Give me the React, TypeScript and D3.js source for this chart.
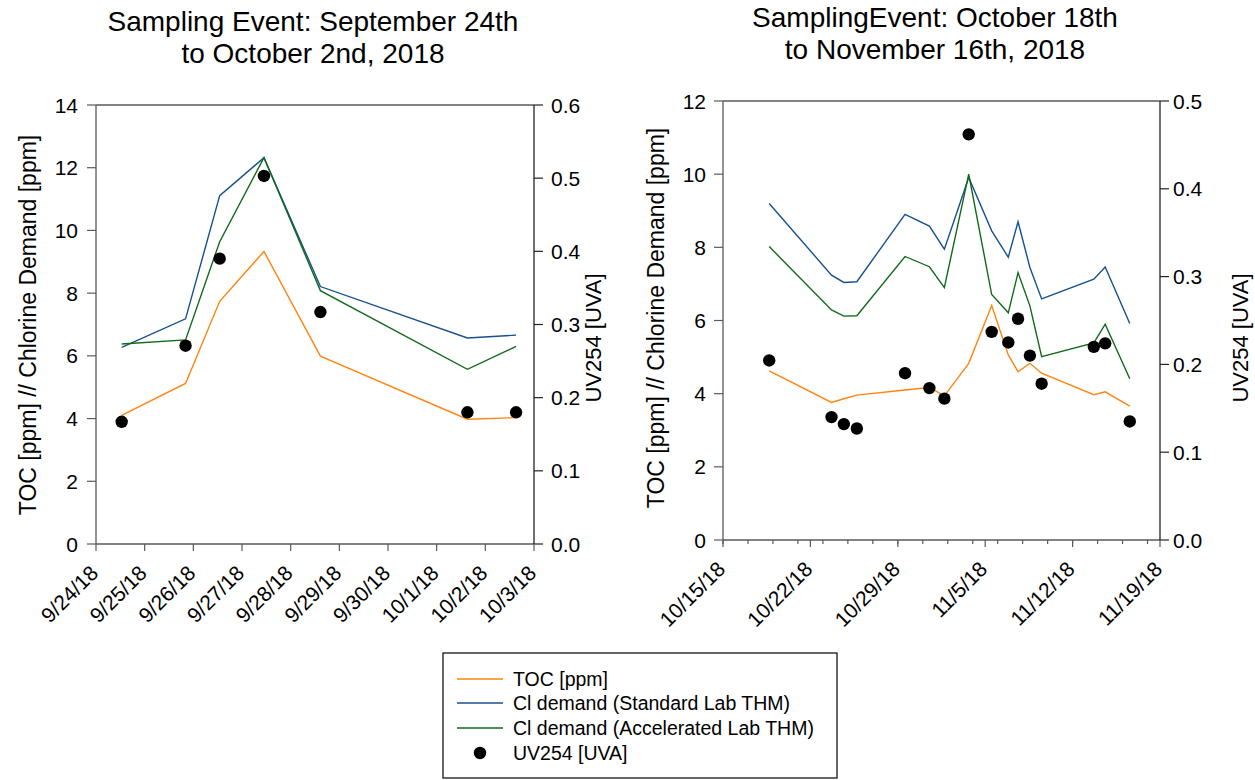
import React from "react";
import * as d3 from "d3";

// ---------- Data: Sampling Event 1 (Sep 24 – Oct 2, 2018) ----------
const leftDates = [
  "2018-09-24T12:40", "2018-09-25T20:10", "2018-09-26T13:00", "2018-09-27T10:50",
  "2018-09-28T14:40", "2018-10-01T15:10", "2018-10-02T15:10",
];
const leftTOC = [4.1, 5.12, 7.74, 9.33, 5.99, 3.98, 4.03];
const leftClStd = [6.27, 7.18, 11.11, 12.32, 8.21, 6.57, 6.66];
const leftClAcc = [6.38, 6.51, 9.64, 12.32, 8.08, 5.57, 6.3];
const leftUV = [0.167, 0.271, 0.39, 0.503, 0.317, 0.18, 0.18];

// ---------- Data: Sampling Event 2 (Oct 18 – Nov 16, 2018) ----------
const rightDates = [
  "2018-10-18T16:48", "2018-10-23T16:34", "2018-10-24T16:19", "2018-10-25T17:17",
  "2018-10-29T13:55", "2018-10-31T12:43", "2018-11-01T17:31", "2018-11-03T16:19",
  "2018-11-05T12:29", "2018-11-06T20:24", "2018-11-07T15:07", "2018-11-08T13:55",
  "2018-11-09T12:29", "2018-11-13T16:48", "2018-11-14T14:38", "2018-11-16T13:55",
];
const rightTOC = [4.62, 3.76, 3.86, 3.96, 4.1, 4.17, 3.94, 4.83, 6.41, 5.06, 4.6, 4.83, 4.56, 3.97, 4.05, 3.66];
const rightClStd = [9.2, 7.24, 7.04, 7.06, 8.9, 8.58, 7.95, 9.91, 8.45, 7.73, 8.7, 7.45, 6.59, 7.13, 7.46, 5.92];
const rightClAcc = [8.02, 6.29, 6.12, 6.13, 7.75, 7.47, 6.9, 10.0, 6.71, 6.21, 7.31, 6.4, 5.01, 5.39, 5.9, 4.41];
const rightUV = [0.2045, 0.14, 0.132, 0.127, 0.19, 0.173, 0.161, 0.462, 0.237, 0.225, 0.252, 0.21, 0.178, 0.22, 0.224, 0.135];

const leftTitle = ["Sampling Event: September 24th", "to October 2nd, 2018"];
const rightTitle = ["SamplingEvent: October 18th", "to November 16th, 2018"];
const yLabel = "TOC [ppm] // Chlorine Demand [ppm]";
const y2Label = "UV254 [UVA]";

const legendItems = [
  { label: "TOC [ppm]", kind: "line", key: "toc" },
  { label: "Cl demand (Standard Lab THM)", kind: "line", key: "std" },
  { label: "Cl demand (Accelerated Lab THM)", kind: "line", key: "acc" },
  { label: "UV254 [UVA]", kind: "dot", key: "uv" },
];

const COLORS: Record<string, string> = {
  toc: "#ff8412",
  std: "#17508f",
  acc: "#11691a",
  uv: "#000000",
};

const FONT = "'Liberation Sans', Arial, Helvetica, sans-serif";
const AXIS = "#5a5a5a";
const fmtDate = d3.timeFormat("%-m/%-d/%y");
const parse = (s: string) => new Date(s);

type PanelProps = {
  dates: string[];
  toc: number[];
  std: number[];
  acc: number[];
  uv: number[];
  box: { x0: number; x1: number; y0: number; y1: number };
  xDomain: [string, string];
  majorStep: number;
  minorStep: number;
  yMax: number;
  yStep: number;
  y2Max: number;
  title: string[];
  titleX: number;
  titleY: number[];
  yLabelPos: [number, number];
  y2LabelPos: [number, number];
  yTickGap: number;
  y2TickGap: number;
};

function Panel(p: PanelProps) {
  const { box } = p;
  const x = d3.scaleTime().domain([parse(p.xDomain[0]), parse(p.xDomain[1])]).range([box.x0, box.x1]);
  const y = d3.scaleLinear().domain([0, p.yMax]).range([box.y1, box.y0]);
  const y2 = d3.scaleLinear().domain([0, p.y2Max]).range([box.y1, box.y0]);
  const start = parse(p.xDomain[0]);
  const end = parse(p.xDomain[1]);
  const majors = d3.timeDay.range(start, d3.timeDay.offset(end, 1), p.majorStep);
  const minors = p.minorStep > 0 ? d3.timeDay.range(start, d3.timeDay.offset(end, 1), p.minorStep) : [];
  const yTicks = d3.range(0, p.yMax + 0.001, p.yStep);
  const y2Ticks = d3.range(0, p.y2Max + 0.0001, 0.1);
  const pts = p.dates.map(parse);

  const mk = (vals: number[]) =>
    d3.line<number>().x((_, i) => x(pts[i])).y((v) => y(v))(vals) || "";

  return (
    <g>
      {p.title.map((t, i) => (
        <text key={i} x={p.titleX} y={p.titleY[i]} textAnchor="middle" fontSize={28} fill="#000">
          {t}
        </text>
      ))}
      {/* frame: left, bottom, top, right */}
      <line x1={box.x0} x2={box.x0} y1={box.y0} y2={box.y1} stroke={AXIS} strokeWidth={1.3} />
      <line x1={box.x0} x2={box.x1} y1={box.y1} y2={box.y1} stroke={AXIS} strokeWidth={1.3} />
      <line x1={box.x0} x2={box.x1} y1={box.y0} y2={box.y0} stroke={AXIS} strokeWidth={1.3} />
      <line x1={box.x1} x2={box.x1} y1={box.y0} y2={box.y1} stroke="#222" strokeWidth={1.3} />
      {/* left y ticks */}
      {yTicks.map((t) => (
        <g key={"yl" + t}>
          <line x1={box.x0 - 9} x2={box.x0} y1={y(t)} y2={y(t)} stroke={AXIS} strokeWidth={1.2} />
          <text x={box.x0 - p.yTickGap} y={y(t)} dy="0.36em" textAnchor="end" fontSize={21}>
            {d3.format("d")(t)}
          </text>
        </g>
      ))}
      {/* right y ticks */}
      {y2Ticks.map((t) => (
        <g key={"yr" + t}>
          <line x1={box.x1} x2={box.x1 + 9} y1={y2(t)} y2={y2(t)} stroke="#222" strokeWidth={1.2} />
          <text x={box.x1 + p.y2TickGap} y={y2(t)} dy="0.36em" textAnchor="start" fontSize={21}>
            {d3.format(".1f")(t)}
          </text>
        </g>
      ))}
      {/* minor x ticks */}
      {minors.map((d, i) => (
        <line key={"mn" + i} x1={x(d)} x2={x(d)} y1={box.y1} y2={box.y1 + 4} stroke={AXIS} strokeWidth={1.2} />
      ))}
      {/* major x ticks */}
      {majors.map((d, i) => (
        <g key={"mj" + i}>
          <line x1={x(d)} x2={x(d)} y1={box.y1} y2={box.y1 + 7} stroke={AXIS} strokeWidth={1.2} />
          <text
            transform={`translate(${x(d) - 7},${box.y1 + 20}) rotate(-45)`}
            textAnchor="end"
            dy="0.7em"
            fontSize={21}
          >
            {fmtDate(d)}
          </text>
        </g>
      ))}
      {/* axis labels */}
      <text
        transform={`translate(${p.yLabelPos[0]},${p.yLabelPos[1]}) rotate(-90)`}
        textAnchor="middle"
        dy="0.35em"
        fontSize={23}
      >
        {yLabel}
      </text>
      <text
        transform={`translate(${p.y2LabelPos[0]},${p.y2LabelPos[1]}) rotate(-90)`}
        textAnchor="middle"
        dy="0.35em"
        fontSize={22}
      >
        {y2Label}
      </text>
      {/* series */}
      <path d={mk(p.toc)} fill="none" stroke={COLORS.toc} strokeWidth={1.4} />
      <path d={mk(p.std)} fill="none" stroke={COLORS.std} strokeWidth={1.4} />
      <path d={mk(p.acc)} fill="none" stroke={COLORS.acc} strokeWidth={1.4} />
      {p.uv.map((v, i) => (
        <circle key={"uv" + i} cx={x(pts[i])} cy={y2(v)} r={6.2} fill={COLORS.uv} />
      ))}
    </g>
  );
}

export default function App() {
  const lx = 443;
  const ly = 653;
  const rows = [679, 703, 728, 753];
  return (
    <svg
      width={1255}
      height={780}
      style={{ position: "absolute", left: 0, top: 0, background: "#fff" }}
      fontFamily={FONT}
    >
      <rect x={0} y={0} width={1255} height={780} fill="#fff" />
      <Panel
        dates={leftDates}
        toc={leftTOC}
        std={leftClStd}
        acc={leftClAcc}
        uv={leftUV}
        box={{ x0: 96, x1: 534, y0: 105, y1: 544 }}
        xDomain={["2018-09-24T00:00", "2018-10-03T00:00"]}
        majorStep={1}
        minorStep={0}
        yMax={14}
        yStep={2}
        y2Max={0.6}
        title={leftTitle}
        titleX={313}
        titleY={[31, 63]}
        yLabelPos={[28, 325]}
        y2LabelPos={[593, 338]}
        yTickGap={18}
        y2TickGap={17}
      />
      <Panel
        dates={rightDates}
        toc={rightTOC}
        std={rightClStd}
        acc={rightClAcc}
        uv={rightUV}
        box={{ x0: 723, x1: 1160, y0: 101, y1: 540 }}
        xDomain={["2018-10-15T00:00", "2018-11-19T00:00"]}
        majorStep={7}
        minorStep={2}
        yMax={12}
        yStep={2}
        y2Max={0.5}
        title={rightTitle}
        titleX={935}
        titleY={[27, 59]}
        yLabelPos={[656, 318]}
        y2LabelPos={[1240, 338]}
        yTickGap={17}
        y2TickGap={13}
      />
      {/* legend */}
      <rect x={lx} y={ly} width={394} height={125} fill="#fff" stroke="#000" strokeWidth={1.2} />
      {legendItems.map((it, i) =>
        <g key={it.key}>
          {it.kind === "line" ? (
            <line x1={457} x2={503} y1={rows[i]} y2={rows[i]} stroke={COLORS[it.key]} strokeWidth={1.4} />
          ) : (
            <circle cx={480} cy={rows[i]} r={6.2} fill={COLORS[it.key]} />
          )}
          <text x={513} y={rows[i]} dy="0.36em" fontSize={19.5}>
            {it.label}
          </text>
        </g>
      )}
    </svg>
  );
}
